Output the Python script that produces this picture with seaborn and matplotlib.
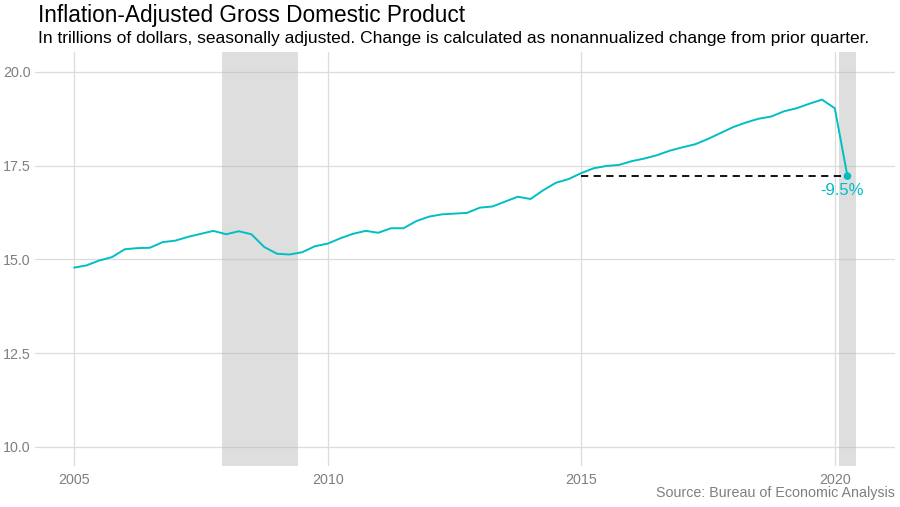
import pandas as pd
import matplotlib
matplotlib.use("Agg")
import matplotlib.pyplot as plt
import matplotlib.dates as mdates
import seaborn as sns

gdp = [
    14.78, 14.84, 14.97, 15.06,
    15.27, 15.30, 15.31, 15.46,
    15.50, 15.60, 15.68, 15.76,
    15.67, 15.75, 15.67, 15.33,
    15.15, 15.13, 15.19, 15.35,
    15.42, 15.56, 15.68, 15.76,
    15.71, 15.83, 15.83, 16.02,
    16.14, 16.20, 16.22, 16.24,
    16.38, 16.41, 16.54, 16.67,
    16.61, 16.84, 17.04, 17.14,
    17.30, 17.43, 17.49, 17.52,
    17.62, 17.69, 17.78, 17.90,
    17.99, 18.07, 18.21, 18.37,
    18.53, 18.65, 18.75, 18.81,
    18.95, 19.03, 19.15, 19.26,
    19.03, 17.22,
]
quarters = pd.date_range("2005-01-01", periods=len(gdp), freq="QS")

# NBER recessions
rec_start = ["2007-12-01", "2020-02-01"]
rec_end = ["2009-06-01", "2020-06-01"]

year_ticks = [2005, 2010, 2015, 2020]
y_ticks = [10.0, 12.5, 15.0, 17.5, 20.0]

TEAL = "#00BFC4"
GRAY_TXT = "#7f7f7f"

df = pd.DataFrame({"date": quarters, "gdp": gdp})
last = df.iloc[-1]
prev = df.iloc[-2]
change = (last.gdp / prev.gdp - 1) * 100
# first quarter where GDP was at the current level
level_date = df.loc[df.gdp >= last.gdp, "date"].iloc[0]

sns.set_theme(style="whitegrid")
plt.rcParams["font.family"] = ["Liberation Sans", "DejaVu Sans"]

fig = plt.figure(figsize=(9, 5.07), dpi=100)
ax = fig.add_axes([35 / 900, 1 - 466 / 507, 860 / 900, 414 / 507])

for s, e in zip(rec_start, rec_end):
    ax.axvspan(pd.Timestamp(s), pd.Timestamp(e), color="#bebebe", alpha=0.5,
               lw=0, zorder=1)

sns.lineplot(data=df, x="date", y="gdp", color=TEAL, lw=1.4, ax=ax, zorder=3)
ax.hlines(last.gdp, level_date, last.date, colors="black", linestyles=(0, (4, 3)),
          lw=1.3, zorder=2)
sns.scatterplot(x=[last.date], y=[last.gdp], color=TEAL, s=30, edgecolor="none",
                ax=ax, zorder=4)
ax.annotate(f"{change:.1f}%", (last.date, last.gdp), xytext=(-4, -5),
            textcoords="offset points", ha="center", va="top", color=TEAL,
            fontsize=12)

# x limits with ggplot-like 5% expansion
x0 = quarters[0]
x1 = pd.Timestamp(rec_end[-1])
pad = (x1 - x0) * 0.05
ax.set_xlim(x0 - pad, x1 + pad)
ax.set_ylim(9.49, 20.53)

ax.set_xticks([pd.Timestamp(f"{y}-01-01") for y in year_ticks])
ax.xaxis.set_major_formatter(mdates.DateFormatter("%Y"))
ax.set_yticks(y_ticks)
ax.set_yticklabels([f"{v:.1f}" for v in y_ticks])
ax.tick_params(axis="both", colors=GRAY_TXT, labelsize=10.3, length=0)
ax.tick_params(axis="x", pad=5)
ax.tick_params(axis="y", pad=3)
ax.grid(True, color="#dcdcdc", lw=0.9)
ax.set_xlabel("")
ax.set_ylabel("")
for sp in ax.spines.values():
    sp.set_visible(False)
ax.set_facecolor("white")

fig.text(38 / 900, 1 - 22 / 507, "Inflation-Adjusted Gross Domestic Product",
         fontsize=16.3, va="baseline", ha="left", color="black")
fig.text(38 / 900, 1 - 43 / 507,
         "In trillions of dollars, seasonally adjusted. Change is calculated as "
         "nonannualized change from prior quarter.",
         fontsize=12.5, va="baseline", ha="left", color="black")
fig.text(895 / 900, 1 - 497 / 507, "Source: Bureau of Economic Analysis",
         fontsize=10.3, va="baseline", ha="right", color=GRAY_TXT)

fig.savefig("out.png", dpi=100, facecolor="white")
